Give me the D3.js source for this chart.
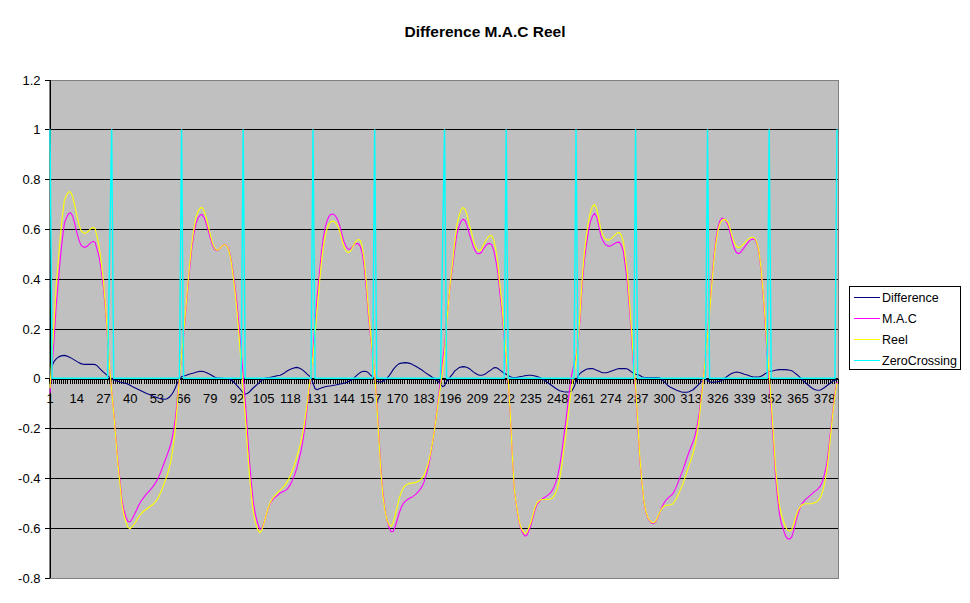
<!DOCTYPE html>
<html><head><meta charset="utf-8">
<script src="https://cdn.jsdelivr.net/npm/d3@7"></script>
<style>
body{margin:0;background:#fff}
svg{display:block}
text{font-family:"Liberation Sans",Arial,sans-serif;fill:#000}
</style>
</head><body>
<svg id="chart" width="970" height="603"></svg>
<script>
const chartTitle = "Difference M.A.C Reel";
const seriesNames = ["Difference", "M.A.C", "Reel", "ZeroCrossing"];
const seriesColors = ["#000080", "#FF00FF", "#FFFF00", "#00FFFF"];
const categories = d3.range(1, 385);
const xTickLabels = [1,14,27,40,53,66,79,92,105,118,131,144,157,170,183,196,209,222,235,248,261,274,287,300,313,326,339,352,365,378];
const yTicks = [-0.8,-0.6,-0.4,-0.2,0,0.2,0.4,0.6,0.8,1,1.2];

const reel = [
-0.04,0.10,0.23,0.37,0.47,0.57,0.65,0.715,0.735,0.748,0.748,0.73,0.695,0.655,0.62,0.595,
0.585,0.582,0.586,0.594,0.602,0.606,0.60,0.565,0.525,0.46,0.39,0.29,0.17,0.045,-0.05,-0.14,
-0.24,-0.34,-0.42,-0.505,-0.55,-0.58,-0.60,-0.604,-0.597,-0.585,-0.572,-0.558,-0.547,-0.538,-0.531,-0.525,
-0.519,-0.513,-0.507,-0.498,-0.488,-0.474,-0.456,-0.435,-0.413,-0.39,-0.36,-0.325,-0.27,-0.2,-0.1,0.0,
0.09,0.18,0.27,0.37,0.46,0.54,0.60,0.645,0.67,0.683,0.686,0.672,0.645,0.612,0.578,0.545,
0.524,0.515,0.516,0.525,0.533,0.537,0.532,0.515,0.478,0.42,0.35,0.27,0.17,0.06,-0.05,-0.15,
-0.27,-0.38,-0.47,-0.54,-0.58,-0.605,-0.62,-0.612,-0.585,-0.555,-0.525,-0.502,-0.487,-0.475,-0.466,-0.457,
-0.449,-0.441,-0.432,-0.421,-0.407,-0.39,-0.37,-0.347,-0.32,-0.29,-0.26,-0.22,-0.17,-0.11,-0.045,0.02,
0.09,0.18,0.28,0.37,0.46,0.528,0.575,0.605,0.622,0.63,0.631,0.624,0.612,0.59,0.558,0.53,
0.512,0.505,0.508,0.522,0.538,0.551,0.558,0.553,0.528,0.468,0.38,0.27,0.18,0.095,0.02,-0.10,
-0.235,-0.37,-0.47,-0.53,-0.568,-0.59,-0.594,-0.58,-0.55,-0.515,-0.48,-0.457,-0.44,-0.43,-0.425,-0.422,
-0.421,-0.42,-0.418,-0.414,-0.41,-0.402,-0.39,-0.37,-0.345,-0.31,-0.265,-0.215,-0.155,-0.09,-0.035,0.03,
0.10,0.215,0.31,0.40,0.47,0.55,0.615,0.65,0.676,0.686,0.68,0.655,0.62,0.59,0.555,0.53,
0.515,0.512,0.518,0.535,0.55,0.565,0.572,0.572,0.555,0.515,0.46,0.37,0.29,0.19,0.09,-0.01,
-0.14,-0.31,-0.45,-0.51,-0.56,-0.595,-0.612,-0.623,-0.62,-0.60,-0.58,-0.55,-0.52,-0.50,-0.492,-0.488,
-0.487,-0.487,-0.487,-0.486,-0.484,-0.476,-0.462,-0.44,-0.405,-0.355,-0.29,-0.23,-0.16,-0.09,-0.03,0.02,
0.07,0.15,0.26,0.40,0.50,0.57,0.625,0.668,0.69,0.698,0.682,0.645,0.60,0.575,0.562,0.556,
0.555,0.56,0.568,0.576,0.583,0.586,0.575,0.55,0.49,0.42,0.31,0.19,0.07,-0.035,-0.17,-0.31,
-0.41,-0.49,-0.535,-0.56,-0.572,-0.579,-0.58,-0.57,-0.552,-0.535,-0.52,-0.513,-0.51,-0.51,-0.508,-0.505,
-0.495,-0.48,-0.462,-0.443,-0.425,-0.40,-0.375,-0.35,-0.325,-0.30,-0.265,-0.22,-0.16,-0.08,0.0,0.085,
0.17,0.26,0.37,0.465,0.54,0.59,0.62,0.635,0.638,0.636,0.625,0.60,0.57,0.545,0.53,0.525,
0.527,0.535,0.543,0.552,0.56,0.565,0.566,0.562,0.545,0.51,0.445,0.35,0.24,0.12,0.02,-0.10,
-0.22,-0.35,-0.44,-0.51,-0.55,-0.575,-0.598,-0.61,-0.614,-0.607,-0.585,-0.555,-0.532,-0.517,-0.508,-0.505,
-0.504,-0.504,-0.504,-0.503,-0.50,-0.497,-0.49,-0.478,-0.455,-0.42,-0.375,-0.305,-0.22,-0.14,-0.07,-0.02
];

const mac = [
-0.06,0.05,0.162,0.292,0.385,0.481,0.559,0.623,0.645,0.661,0.665,0.652,0.622,0.587,0.557,0.536,
0.528,0.526,0.53,0.538,0.546,0.55,0.545,0.515,0.484,0.427,0.365,0.272,0.159,0.041,-0.048,-0.134,
-0.231,-0.328,-0.405,-0.488,-0.531,-0.559,-0.576,-0.576,-0.564,-0.548,-0.531,-0.513,-0.498,-0.485,-0.474,-0.464,
-0.455,-0.446,-0.436,-0.424,-0.411,-0.394,-0.374,-0.352,-0.329,-0.308,-0.284,-0.257,-0.215,-0.162,-0.082,0.002,
0.084,0.171,0.259,0.356,0.443,0.521,0.579,0.621,0.644,0.655,0.658,0.646,0.622,0.593,0.563,0.535,
0.519,0.513,0.515,0.525,0.533,0.538,0.533,0.518,0.484,0.432,0.37,0.299,0.208,0.108,0.008,-0.086,
-0.209,-0.325,-0.424,-0.502,-0.549,-0.582,-0.605,-0.604,-0.583,-0.556,-0.527,-0.505,-0.492,-0.482,-0.475,-0.468,
-0.461,-0.457,-0.453,-0.448,-0.439,-0.426,-0.409,-0.389,-0.364,-0.332,-0.298,-0.253,-0.196,-0.128,-0.056,0.016,
0.11,0.222,0.326,0.412,0.499,0.564,0.609,0.637,0.653,0.66,0.659,0.651,0.637,0.613,0.58,0.55,
0.53,0.519,0.518,0.527,0.536,0.541,0.541,0.53,0.501,0.44,0.353,0.248,0.167,0.089,0.024,-0.088,
-0.22,-0.355,-0.458,-0.524,-0.569,-0.60,-0.616,-0.615,-0.595,-0.568,-0.539,-0.518,-0.502,-0.493,-0.487,-0.482,
-0.478,-0.472,-0.466,-0.457,-0.448,-0.435,-0.417,-0.391,-0.36,-0.32,-0.269,-0.214,-0.148,-0.077,-0.013,0.063,
0.13,0.227,0.312,0.392,0.452,0.52,0.579,0.608,0.631,0.639,0.634,0.612,0.581,0.557,0.529,0.51,
0.50,0.50,0.506,0.521,0.532,0.54,0.542,0.536,0.513,0.472,0.421,0.337,0.263,0.17,0.074,-0.021,
-0.146,-0.313,-0.453,-0.513,-0.565,-0.602,-0.62,-0.633,-0.631,-0.612,-0.592,-0.561,-0.529,-0.507,-0.496,-0.488,
-0.482,-0.477,-0.471,-0.464,-0.456,-0.442,-0.422,-0.395,-0.355,-0.303,-0.236,-0.175,-0.105,-0.036,0.02,0.055,
0.085,0.14,0.24,0.374,0.469,0.534,0.587,0.629,0.651,0.662,0.65,0.616,0.575,0.553,0.54,0.534,
0.53,0.532,0.537,0.542,0.546,0.547,0.536,0.511,0.451,0.383,0.278,0.164,0.05,-0.051,-0.184,-0.322,
-0.416,-0.494,-0.538,-0.563,-0.575,-0.582,-0.583,-0.573,-0.555,-0.536,-0.514,-0.499,-0.487,-0.479,-0.472,-0.465,
-0.451,-0.432,-0.411,-0.389,-0.369,-0.344,-0.319,-0.296,-0.275,-0.254,-0.227,-0.19,-0.138,-0.067,0.006,0.085,
0.178,0.274,0.386,0.481,0.555,0.604,0.632,0.643,0.64,0.632,0.615,0.584,0.55,0.522,0.505,0.501,
0.505,0.516,0.527,0.538,0.549,0.557,0.56,0.557,0.54,0.505,0.437,0.338,0.222,0.097,-0.006,-0.129,
-0.25,-0.382,-0.474,-0.545,-0.585,-0.61,-0.633,-0.644,-0.646,-0.637,-0.61,-0.573,-0.544,-0.521,-0.504,-0.493,
-0.484,-0.477,-0.47,-0.463,-0.455,-0.45,-0.442,-0.431,-0.413,-0.383,-0.345,-0.281,-0.202,-0.129,-0.062,-0.015
];

const difference = [
0.02,0.05,0.068,0.078,0.085,0.089,0.091,0.092,0.09,0.087,0.083,0.078,0.073,0.068,0.063,0.059,
0.057,0.056,0.056,0.056,0.056,0.056,0.055,0.05,0.041,0.033,0.025,0.018,0.011,0.004,-0.002,-0.006,
-0.009,-0.012,-0.015,-0.017,-0.019,-0.021,-0.024,-0.028,-0.033,-0.037,-0.041,-0.045,-0.049,-0.053,-0.057,-0.061,
-0.064,-0.067,-0.071,-0.074,-0.077,-0.08,-0.082,-0.083,-0.084,-0.082,-0.076,-0.068,-0.055,-0.038,-0.018,-0.002,
0.006,0.009,0.011,0.014,0.017,0.019,0.021,0.024,0.026,0.028,0.028,0.026,0.023,0.019,0.015,0.01,
0.005,0.002,0.001,0,0,-0.001,-0.001,-0.003,-0.006,-0.012,-0.02,-0.029,-0.038,-0.048,-0.058,-0.064,
-0.061,-0.055,-0.046,-0.038,-0.031,-0.023,-0.015,-0.008,-0.002,0.001,0.002,0.003,0.005,0.007,0.009,0.011,
0.012,0.016,0.021,0.027,0.032,0.036,0.039,0.042,0.044,0.042,0.038,0.033,0.026,0.018,0.011,0.004,
-0.02,-0.042,-0.046,-0.042,-0.039,-0.036,-0.034,-0.032,-0.031,-0.03,-0.028,-0.027,-0.025,-0.023,-0.022,-0.02,
-0.018,-0.014,-0.01,-0.005,0.002,0.01,0.017,0.023,0.027,0.028,0.027,0.022,0.013,0.006,-0.004,-0.012,
-0.015,-0.015,-0.012,-0.006,0.001,0.01,0.022,0.035,0.045,0.053,0.059,0.061,0.062,0.063,0.062,0.06,
0.057,0.052,0.048,0.043,0.038,0.033,0.027,0.021,0.015,0.01,0.004,-0.001,-0.007,-0.013,-0.022,-0.033,
-0.03,-0.012,-0.002,0.008,0.018,0.03,0.036,0.042,0.045,0.047,0.046,0.043,0.039,0.033,0.026,0.02,
0.015,0.012,0.012,0.014,0.018,0.025,0.03,0.036,0.042,0.043,0.039,0.033,0.027,0.02,0.016,0.011,
0.006,0.003,0.003,0.003,0.005,0.007,0.008,0.01,0.011,0.012,0.012,0.011,0.009,0.007,0.004,0,
-0.005,-0.01,-0.016,-0.022,-0.028,-0.034,-0.04,-0.045,-0.05,-0.052,-0.054,-0.055,-0.055,-0.054,-0.05,-0.035,
-0.015,0.01,0.02,0.026,0.031,0.036,0.038,0.039,0.039,0.036,0.032,0.029,0.025,0.022,0.022,0.022,
0.025,0.028,0.031,0.034,0.037,0.039,0.039,0.039,0.039,0.037,0.032,0.026,0.02,0.016,0.014,0.012,
0.006,0.004,0.003,0.003,0.003,0.003,0.003,0.003,0.003,0.001,-0.006,-0.014,-0.023,-0.031,-0.036,-0.04,
-0.044,-0.048,-0.051,-0.054,-0.056,-0.056,-0.056,-0.054,-0.05,-0.046,-0.038,-0.03,-0.022,-0.013,-0.006,0,
-0.008,-0.014,-0.016,-0.016,-0.015,-0.014,-0.012,-0.008,-0.002,0.004,0.01,0.016,0.02,0.023,0.025,0.024,
0.022,0.019,0.016,0.014,0.011,0.008,0.006,0.005,0.005,0.005,0.008,0.012,0.018,0.023,0.026,0.029,
0.03,0.032,0.034,0.035,0.035,0.035,0.035,0.034,0.032,0.03,0.025,0.018,0.012,0.004,-0.004,-0.012,
-0.02,-0.027,-0.034,-0.04,-0.045,-0.047,-0.048,-0.047,-0.042,-0.037,-0.03,-0.024,-0.018,-0.011,-0.008,-0.005
];

// ZeroCrossing: 0 everywhere except these categories
const zeroCrossingAt  = [1, 30, 31, 65, 95, 129, 159, 192, 193, 223, 257, 286, 321, 351, 384];
const zeroCrossingVal = [1, 0.5, 1, 1, 1, 1, 1, 0.5, 1, 1, 1, 1, 1, 1, 1];

// ---------- build ----------
const zeroCrossing = categories.map(c => {
  const k = zeroCrossingAt.indexOf(c);
  return k < 0 ? 0 : zeroCrossingVal[k];
});
const seriesData = [difference, mac, reel, zeroCrossing];

const W = 970, H = 603;
const plot = {left: 49, top: 79.5, right: 838, bottom: 577.5};
const svg = d3.select("#chart");
svg.append("rect").attr("width", W).attr("height", H).attr("fill", "#fff");

const x = d3.scaleBand().domain(categories).range([plot.left, plot.right]).padding(0);
const cx = c => x(c) + x.bandwidth() / 2;
const y = d3.scaleLinear().domain([-0.8, 1.2]).range([plot.bottom, plot.top]);
const snap = v => Math.round(v) + 0.5;

// plot area
svg.append("rect")
  .attr("x", snap(plot.left)).attr("y", snap(plot.top))
  .attr("width", Math.round(plot.right - plot.left)).attr("height", Math.round(plot.bottom - plot.top))
  .attr("fill", "#C0C0C0").attr("stroke", "#808080").attr("shape-rendering", "crispEdges");

// gridlines
svg.append("g").attr("shape-rendering", "crispEdges")
  .selectAll("line").data(yTicks.filter(v => v > -0.8 && v < 1.2)).join("line")
  .attr("x1", plot.left).attr("x2", plot.right)
  .attr("y1", d => snap(y(d))).attr("y2", d => snap(y(d)))
  .attr("stroke", "#000").attr("stroke-width", 1);

// y axis
const fmt = d => String(+d.toFixed(1));
const yAxis = svg.append("g").attr("transform", `translate(${snap(plot.left)},0)`)
  .call(d3.axisLeft(y).tickValues(yTicks).tickSize(5).tickSizeOuter(0).tickPadding(4).tickFormat(fmt));
yAxis.attr("shape-rendering", "crispEdges");
yAxis.select(".domain").attr("stroke", "#000");
yAxis.selectAll(".tick line").attr("stroke", "#000");
yAxis.selectAll(".tick text").attr("font-size", 13).attr("font-family", "Liberation Sans, Arial, sans-serif").attr("fill", "#000");
yAxis.selectAll(".tick").attr("transform", d => `translate(0,${snap(y(d))})`);

// x axis (at value 0)
const y0 = snap(y(0));
const xAxisG = svg.append("g").attr("transform", `translate(0,${y0})`);
xAxisG.append("g").attr("shape-rendering", "crispEdges")
  .selectAll("line").data(categories.map(c => x(c)).concat([plot.right])).join("line")
  .attr("x1", d => snap(d)).attr("x2", d => snap(d)).attr("y1", 0).attr("y2", 5)
  .attr("stroke", "#000");
const xLab = xAxisG.append("g")
  .call(d3.axisBottom(x).tickValues(xTickLabels).tickSize(0).tickPadding(15).tickSizeOuter(0));
xLab.select(".domain").attr("stroke", "#000").attr("shape-rendering", "crispEdges");
xLab.selectAll(".tick text").attr("font-size", 13).attr("font-family", "Liberation Sans, Arial, sans-serif").attr("fill", "#000");

// series
const line = d3.line().x((d, i) => cx(categories[i])).y(d => y(d));
svg.append("g").selectAll("path").data(seriesData).join("path")
  .attr("d", d => line(d))
  .attr("fill", "none")
  .attr("stroke", (d, i) => seriesColors[i])
  .attr("stroke-width", (d, i) => i === 3 ? 1.4 : 1.1)
  .attr("stroke-linejoin", "miter")
  .attr("stroke-miterlimit", 40);

// title
svg.append("text").attr("x", 485).attr("y", 36.5).attr("text-anchor", "middle")
  .attr("font-size", 15.5).attr("font-weight", "bold").text(chartTitle);

// legend
const lg = svg.append("g");
lg.append("rect").attr("x", 849.5).attr("y", 286.5).attr("width", 111).attr("height", 83)
  .attr("fill", "#fff").attr("stroke", "#000").attr("shape-rendering", "crispEdges");
const rows = lg.selectAll("g.row").data(seriesNames).join("g").attr("class", "row")
  .attr("transform", (d, i) => `translate(0,${Math.round(296.8 + i * 21.1)})`);
rows.append("line").attr("x1", 854).attr("x2", 880).attr("y1", 0.5).attr("y2", 0.5)
  .attr("stroke", (d, i) => seriesColors[i]).attr("stroke-width", 1).attr("shape-rendering", "crispEdges");
rows.append("text").attr("x", 882).attr("y", 4.7).attr("font-size", 12.5).text(d => d);
</script>
</body></html>
